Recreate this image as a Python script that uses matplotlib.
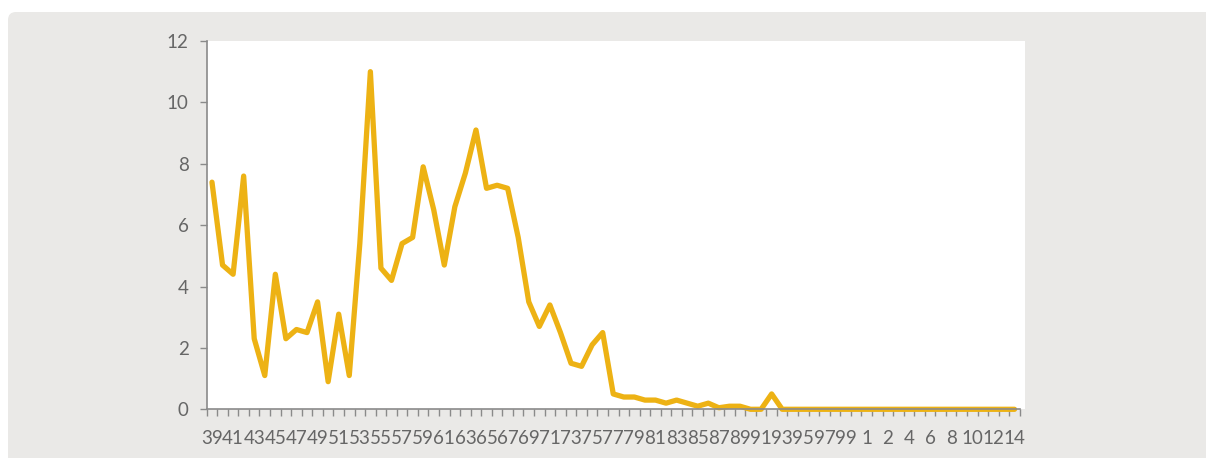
import matplotlib
matplotlib.use("Agg")
import matplotlib.pyplot as plt
from matplotlib.patches import FancyBboxPatch, Rectangle

# Annual values, one per category (77 categories)
values = [
    7.4, 4.7, 4.4, 7.6, 2.3, 1.1, 4.4, 2.3, 2.6, 2.5,
    3.5, 0.9, 3.1, 1.1, 5.4, 11.0, 4.6, 4.2, 5.4, 5.6,
    7.9, 6.5, 4.7, 6.6, 7.7, 9.1, 7.2, 7.3, 7.2, 5.6,
    3.5, 2.7, 3.4, 2.5, 1.5, 1.4, 2.1, 2.5, 0.5, 0.4,
    0.4, 0.3, 0.3, 0.2, 0.3, 0.2, 0.1, 0.2, 0.05, 0.1,
    0.1, 0.0, 0.0, 0.5, 0.0, 0.0, 0.0, 0.0, 0.0, 0.0,
    0.0, 0.0, 0.0, 0.0, 0.0, 0.0, 0.0, 0.0, 0.0, 0.0,
    0.0, 0.0, 0.0, 0.0, 0.0, 0.0, 0.0,
]

# Labels shown on every second category
tick_labels = [
    "39", "41", "43", "45", "47", "49", "51", "53", "55", "57",
    "59", "61", "63", "65", "67", "69", "71", "73", "75", "77",
    "79", "81", "83", "85", "87", "89", "91", "93", "95", "97",
    "99", "1", "2", "4", "6", "8", "10", "12", "14",
]

y_ticks = [0, 2, 4, 6, 8, 10, 12]

W, H = 1206, 458
DPI = 100
LINE_COLOR = "#EDB214"
AXIS_COLOR = "#8A8A8A"
TEXT_COLOR = "#666666"
PANEL_COLOR = "#EAE9E7"

plt.rcParams["font.family"] = ["Lato", "DejaVu Sans"]

fig = plt.figure(figsize=(W / DPI, H / DPI), dpi=DPI)
fig.patch.set_facecolor("white")

# Background layer in pixel units
bg = fig.add_axes([0, 0, 1, 1], zorder=-10)
bg.set_xlim(0, W)
bg.set_ylim(H, 0)
bg.axis("off")
bg.add_patch(FancyBboxPatch((8, 12), W + 20, H + 20,
                            boxstyle="round,pad=0,rounding_size=8",
                            facecolor=PANEL_COLOR, edgecolor="none"))
# white plot area
ax_left, ax_right = 206.7, 1019.8
ax_top, ax_bottom = 41.0, 409.3
bg.add_patch(Rectangle((ax_left, ax_top), 1025 - ax_left, ax_bottom - ax_top,
                       facecolor="white", edgecolor="none"))

ax = fig.add_axes([ax_left / W, (H - ax_bottom) / H,
                   (ax_right - ax_left) / W, (ax_bottom - ax_top) / H])
ax.set_facecolor("none")

n = len(values)
x = list(range(n))
ax.plot(x, values, color=LINE_COLOR, linewidth=3.8,
        solid_capstyle="round", solid_joinstyle="round", clip_on=False)

ax.set_xlim(-0.5, n - 0.5)
ax.set_ylim(0, 12)

# category axis: tick marks between categories, labels on every second one
ax.set_xticks(x[::2])
ax.set_xticklabels(tick_labels)
ax.set_xticks([i - 0.5 for i in range(n + 1)], minor=True)
ax.tick_params(axis="x", which="major", length=0, pad=15,
               labelsize=13.5, labelcolor=TEXT_COLOR)
ax.tick_params(axis="x", which="minor", length=5, width=1,
               color=AXIS_COLOR, direction="out")

ax.set_yticks(y_ticks)
ax.set_yticklabels([str(v) for v in y_ticks])
ax.tick_params(axis="y", which="major", length=5, width=1, color=AXIS_COLOR,
               pad=8, labelsize=13.5, labelcolor=TEXT_COLOR, direction="out")

for side in ("top", "right"):
    ax.spines[side].set_visible(False)
for side in ("left", "bottom"):
    ax.spines[side].set_color(AXIS_COLOR)
    ax.spines[side].set_linewidth(1.2)

fig.savefig("out.png", dpi=DPI, facecolor="white")
